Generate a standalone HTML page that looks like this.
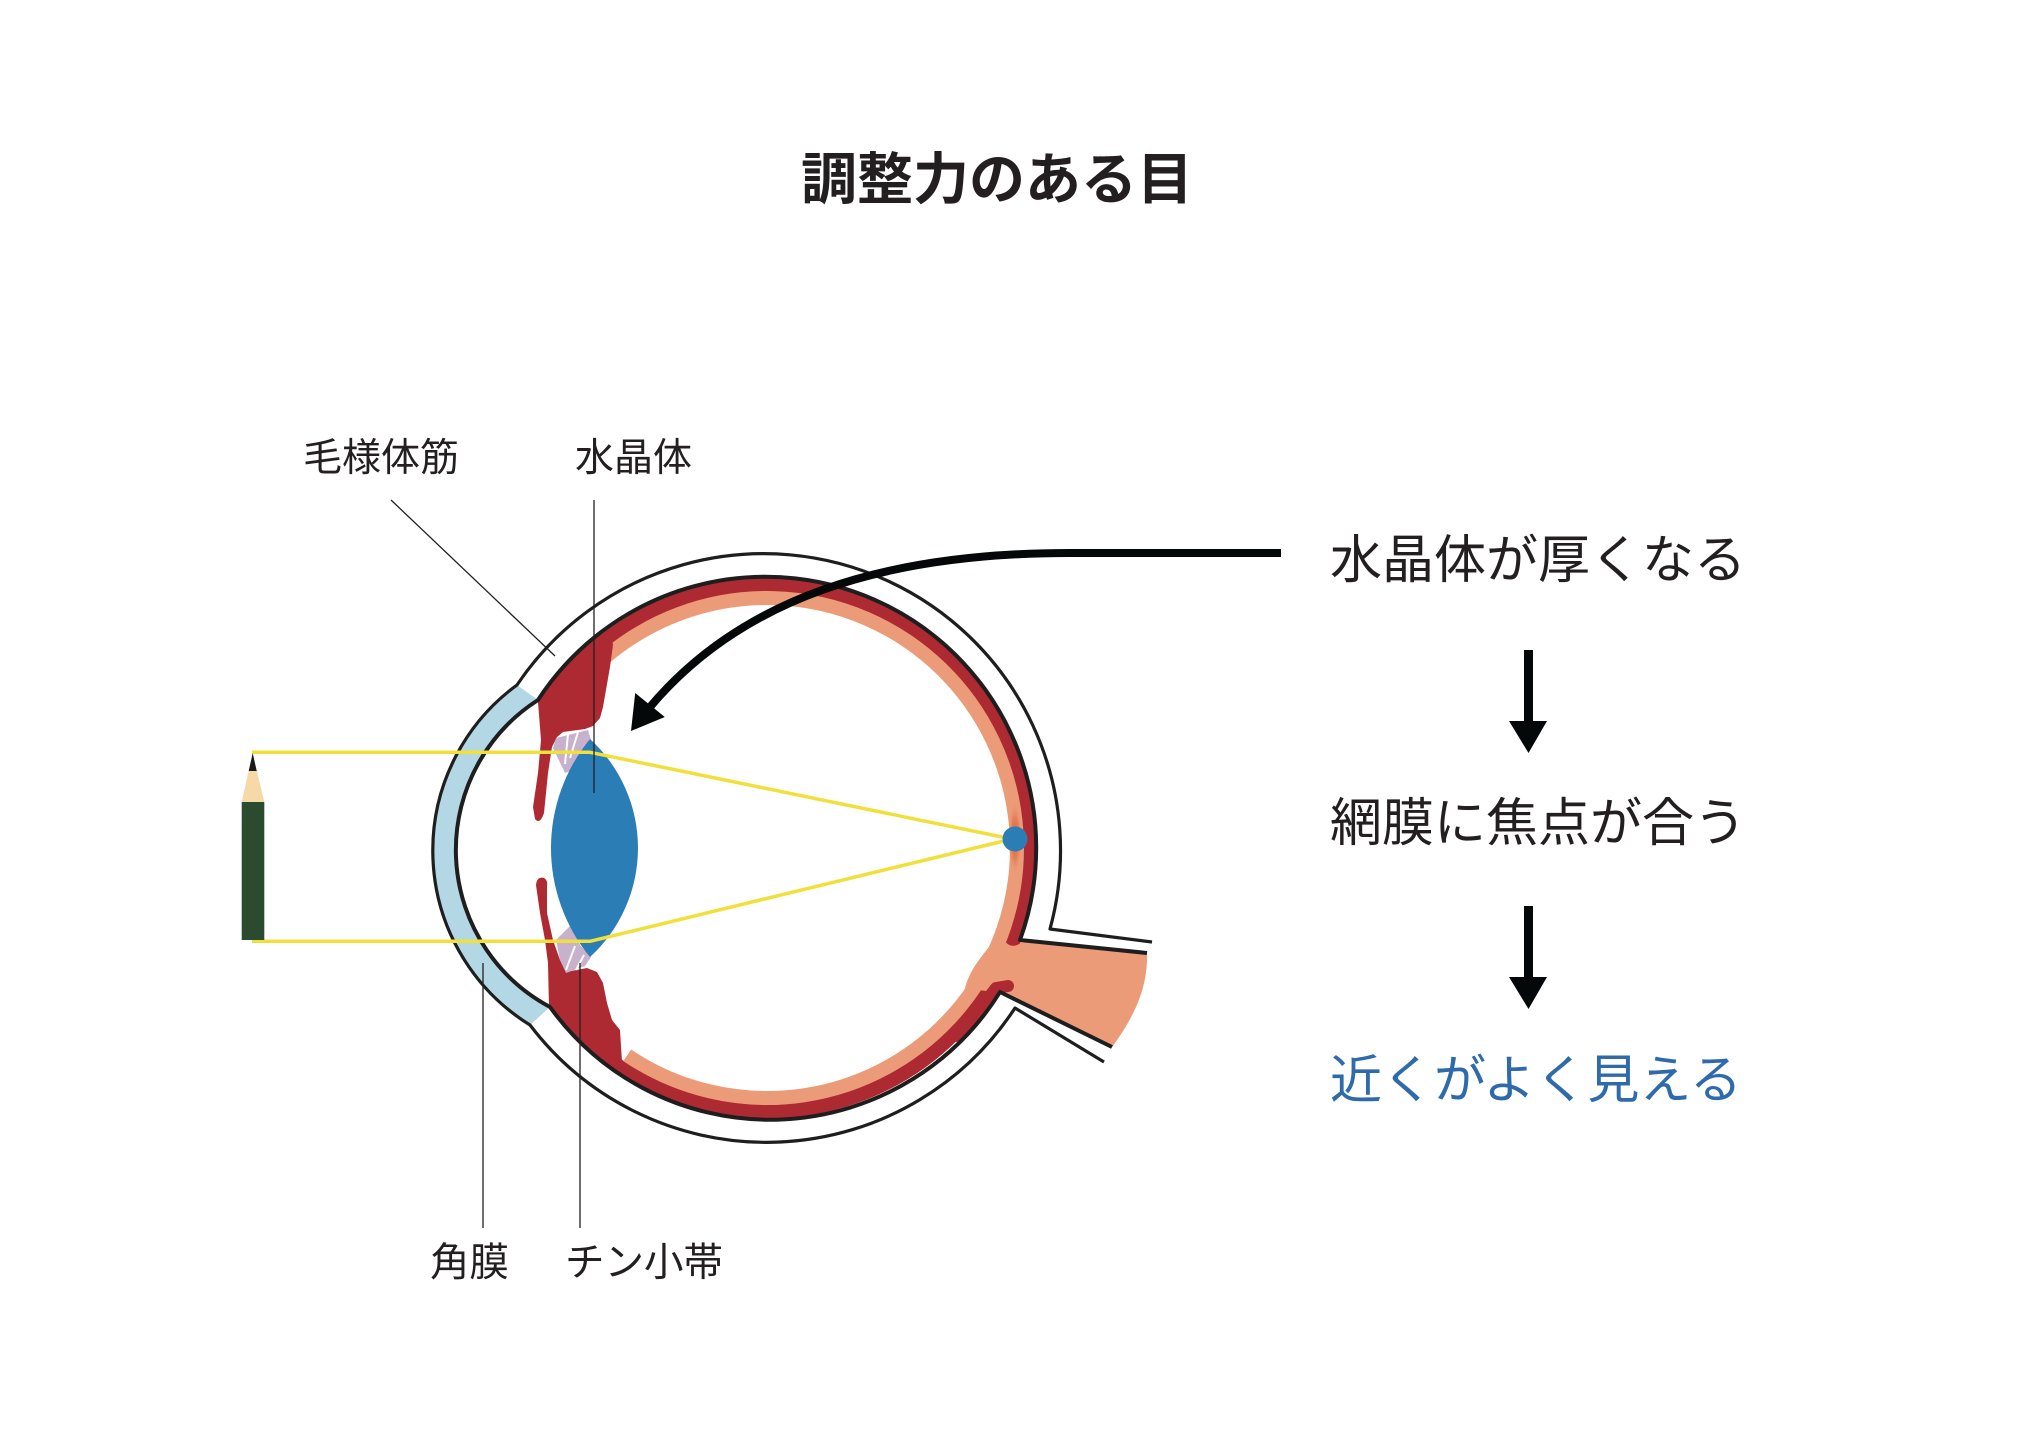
<!DOCTYPE html>
<html>
<head>
<meta charset="utf-8">
<style>
  html, body { margin: 0; padding: 0; background: #ffffff; }
  body { width: 2024px; height: 1442px; overflow: hidden; }
  svg { display: block; }
  text { font-family: "Liberation Sans", "Noto Sans CJK JP", sans-serif; fill: #231f20; }
</style>
</head>
<body>
<svg width="2024" height="1442" viewBox="0 0 2024 1442" xmlns="http://www.w3.org/2000/svg">
  <defs>
    <radialGradient id="fv" cx="0.5" cy="0.5" r="0.5">
      <stop offset="0" stop-color="#d95a30"/>
      <stop offset="0.55" stop-color="#e27449" stop-opacity="0.7"/>
      <stop offset="1" stop-color="#ec9b79" stop-opacity="0"/>
    </radialGradient>
  </defs>

  <rect x="0" y="0" width="2024" height="1442" fill="#ffffff"/>

  <!-- Title -->
  <text x="997" y="199" font-size="56" font-weight="bold" text-anchor="middle">調整力のある目</text>

  <!-- Cornea fill -->
  <path d="M517,685 A205,205 0 0 0 530,1025 L550,1007 A178,178 0 0 1 538,700 Z" fill="#b4d7e6"/>

  <!-- Choroid (red) ring -->
  <path d="M551.2,696.9 A263.5,263.5 0 1 1 565.1,1017.4" fill="none" stroke="#ad2a32" stroke-width="14"/>
  <!-- Retina (salmon) ring -->
  <path d="M603,659.3 A250,250 0 1 1 627.2,1055.3" fill="none" stroke="#ec9b79" stroke-width="14"/>
  <!-- Fovea darker area -->
  <ellipse cx="1015" cy="838" rx="7" ry="38" fill="url(#fv)"/>

  <!-- Optic nerve -->
  <path d="M1000,930 C990,950 972,962 965,988 L1000,993 L1112,1047 C1136,1015 1148,985 1147,953 L1022,942 C1012,950 1004,945 1000,930 Z" fill="#ec9b79"/>
  <path d="M956,1036 Q978,1012 996,988 L1008,986" fill="none" stroke="#ad2a32" stroke-width="12" stroke-linecap="round" stroke-linejoin="round"/>

  <!-- Ciliary body top -->
  <path d="M538,702 A270,270 0 0 1 610,628 L613,645 L610,667 L603,707 L600,718 L593,726 L585,729 L563,732 L557,737 L552,747 L548,773 L544,813 Q540,825 535,819 L533,807 L538,773 L541,740 Z" fill="#ad2a32"/>
  <!-- Ciliary body bottom -->
  <path d="M536,885 Q537,876 544,878 Q548,880 547,886 L547,913 L553,940 L560,960 L566,972 L587,968 L597,972 L603,983 L607,1003 L612,1020 L620,1030 L622,1062 L616,1072 A270,270 0 0 1 549,1008 L548,963 L545,940 L540,913 Z" fill="#ad2a32"/>

  <!-- Zonules -->
  <path d="M556,738 L588,730 L591,740 L573,770 L565,773 L553,748 Z" fill="#c7b1cd"/>
  <line x1="568" y1="734" x2="565" y2="764" stroke="#ffffff" stroke-width="2"/>
  <line x1="578" y1="732" x2="570" y2="758" stroke="#ffffff" stroke-width="2"/>
  <path d="M556,940 L571,925 L580,945 L591,957 L585,966 L566,973 L560,960 Z" fill="#c7b1cd"/>
  <line x1="575" y1="946" x2="566" y2="970" stroke="#ffffff" stroke-width="2"/>
  <line x1="584" y1="955" x2="576" y2="970" stroke="#ffffff" stroke-width="2"/>

  <!-- Lens -->
  <path d="M590,739 A147.8,147.8 0 0 1 590,957 A171.8,171.8 0 0 1 590,739 Z" fill="#2a7db5"/>

  <!-- Outer sclera / cornea outline -->
  <path d="M1152,942 L1050,929 A297,297 0 0 0 517,685 A205,205 0 0 0 530,1025 A297,297 0 0 0 1015,1008 L1104,1062" fill="none" stroke="#1e1e1e" stroke-width="3.2" stroke-linejoin="round"/>
  <!-- Inner sclera / cornea outline -->
  <path d="M1147,953 L1020,940 A271,271 0 0 0 538,700 A178,178 0 0 0 550,1007 A271,271 0 0 0 1000,992 L1112,1047" fill="none" stroke="#1e1e1e" stroke-width="4" stroke-linejoin="round"/>

  <!-- Light rays -->
  <polyline points="252,752.3 590,752.3 1012,839 590,941.3 252,941.3" fill="none" stroke="#f0e03c" stroke-width="3.5" stroke-linejoin="round"/>

  <!-- Fovea dot -->
  <circle cx="1015" cy="839" r="12.5" fill="#2a7db5"/>

  <!-- Leader lines -->
  <g stroke="#231f20" stroke-width="1.3">
    <line x1="391" y1="500" x2="555" y2="656"/>
    <line x1="594" y1="500" x2="594" y2="793"/>
    <line x1="483" y1="963" x2="483" y2="1228"/>
    <line x1="580" y1="963" x2="580" y2="1228"/>
  </g>

  <!-- Curved arrow -->
  <path d="M1281,553 L1070,553 C880,553 740,600 650,707" fill="none" stroke="#050808" stroke-width="8"/>
  <polygon points="631,731 635.2,693 664.8,717" fill="#050808"/>

  <!-- Pencil -->
  <rect x="241.7" y="802" width="22.6" height="138" fill="#2a4b2d"/>
  <polygon points="252.7,753 241.7,802 264.3,802" fill="#f7d9a8"/>
  <polygon points="252.7,753 248.7,771 256.7,771" fill="#1a1a1a"/>

  <!-- Labels -->
  <text x="303" y="471" font-size="39">毛様体筋</text>
  <text x="575" y="471" font-size="39">水晶体</text>
  <text x="430" y="1276" font-size="39.5">角膜</text>
  <text x="565" y="1276" font-size="39.5">チン小帯</text>

  <!-- Right column -->
  <text x="1330" y="578" font-size="52">水晶体が厚くなる</text>
  <rect x="1524" y="650" width="9" height="73" fill="#050808"/>
  <polygon points="1509,721 1547,721 1528.5,753" fill="#050808"/>
  <text x="1330" y="841" font-size="52">網膜に焦点が合う</text>
  <rect x="1524" y="906" width="9" height="73" fill="#050808"/>
  <polygon points="1509,977 1547,977 1528.5,1009" fill="#050808"/>
  <text x="1330" y="1098" font-size="52" style="fill:#2f6aab">近くがよく見える</text>
</svg>
</body>
</html>
